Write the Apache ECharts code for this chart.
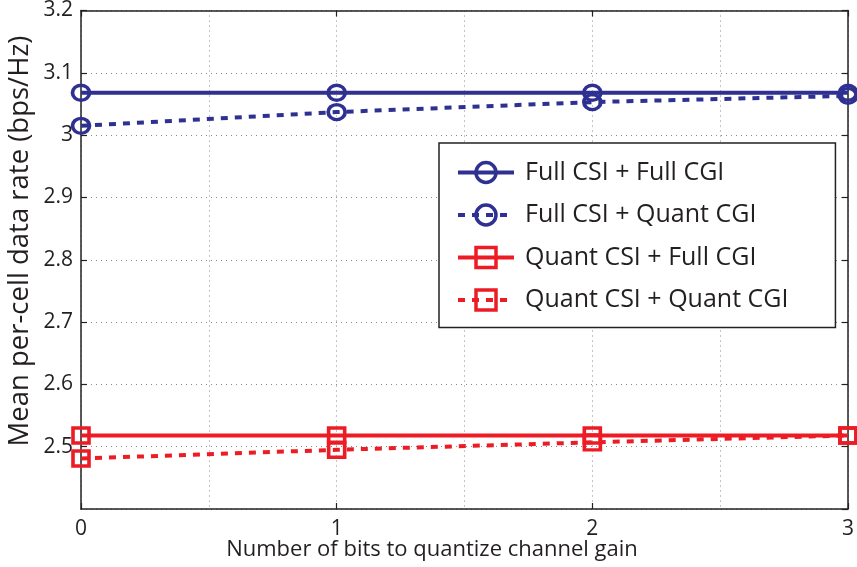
<!DOCTYPE html>
<html>
<head>
<meta charset="utf-8">
<script src="https://cdn.jsdelivr.net/npm/echarts@6/dist/echarts.min.js"></script>
<style>
  html, body { margin: 0; padding: 0; background: #fff; }
  #chart { width: 857px; height: 567px; }
</style>
</head>
<body>
<div id="chart"></div>
<script>
// Number of quantization bits for the channel gain
const bits = [0, 1, 2, 3];

// Mean per-cell data rate (bps/Hz) for each scheme
const fullCsiFullCgi   = [3.068, 3.068, 3.068, 3.068];
const fullCsiQuantCgi  = [3.015, 3.037, 3.053, 3.063];
const quantCsiFullCgi  = [2.518, 2.518, 2.518, 2.518];
const quantCsiQuantCgi = [2.481, 2.495, 2.507, 2.518];

const seriesNames = [
  'Full CSI + Full CGI',
  'Full CSI + Quant CGI',
  'Quant CSI + Full CGI',
  'Quant CSI + Quant CGI'
];

const xTitle = 'Number of bits to quantize channel gain';
const yTitle = 'Mean per-cell data rate (bps/Hz)';

const BLUE = '#2e3192';
const RED = '#ed1c24';
const INK = '#231f20';
const FONT = 'Open Sans';

function pairs(ys) { return bits.map((x, i) => [x, ys[i]]); }

function makeSeries(name, ys, color, symbol, dashed) {
  return {
    name: name,
    type: 'line',
    xAxisIndex: 0,
    yAxisIndex: 0,
    data: pairs(ys),
    symbol: symbol,
    symbolSize: symbol === 'circle' ? [17, 15] : [16, 15],
    showAllSymbol: true,
    lineStyle: { color: color, width: 4, type: dashed ? [7, 7] : 'solid' },
    itemStyle: { color: 'rgba(255,255,255,0)', borderColor: color, borderWidth: 3.5 },
    emphasis: { disabled: true },
    animation: false,
    z: 5
  };
}

const chart = echarts.init(document.getElementById('chart'), null, { renderer: 'canvas' });

const gridLine = { show: true, lineStyle: { color: '#8a8a8a', type: [1, 4], width: 1 } };
const axisLine = { show: true, onZero: false, lineStyle: { color: '#222', width: 1.5 } };
const tick = { show: true, inside: true, length: 6, lineStyle: { color: '#222', width: 1.2 } };
const label = { fontFamily: FONT, fontSize: 21, color: INK };

chart.setOption({
  animation: false,
  backgroundColor: '#fff',
  grid: { left: 81, right: 7, top: 5, bottom: 58, containLabel: false },
  xAxis: [
    {
      type: 'value', min: 0, max: 3, interval: 1, position: 'bottom',
      axisLine: axisLine, axisTick: tick,
      axisLabel: Object.assign({ margin: 10 }, label),
      splitLine: { show: false }
    },
    {
      type: 'value', min: 0, max: 3, interval: 0.5, position: 'bottom',
      axisLine: { show: false }, axisTick: { show: false }, axisLabel: { show: false },
      splitLine: gridLine
    },
    {
      type: 'value', min: 0, max: 3, interval: 1, position: 'top',
      axisLine: axisLine, axisTick: tick,
      axisLabel: { show: false }, splitLine: { show: false }
    }
  ],
  yAxis: [
    {
      type: 'value', min: 2.4, max: 3.2, interval: 0.1, position: 'left',
      axisLine: axisLine, axisTick: tick,
      axisLabel: Object.assign({
        margin: 8, showMinLabel: false,
        formatter: v => {
          const r = Math.round(v * 10) / 10;
          return Number.isInteger(r) ? String(r) : r.toFixed(1);
        }
      }, label),
      splitLine: gridLine
    },
    {
      type: 'value', min: 2.4, max: 3.2, interval: 0.1, position: 'right',
      axisLine: axisLine, axisTick: tick,
      axisLabel: { show: false }, splitLine: { show: false }
    }
  ],
  graphic: [
    {
      type: 'text', x: 432, y: 550,
      style: { text: xTitle, font: '22px "Open Sans"', fill: INK, textAlign: 'center', textVerticalAlign: 'middle' }
    },
    {
      type: 'text', x: 20, y: 241, rotation: Math.PI / 2,
      style: { text: yTitle, font: '27.5px "Open Sans"', fill: INK, textAlign: 'center', textVerticalAlign: 'middle' }
    }
  ],
  legend: {
    orient: 'vertical',
    left: 439, top: 143,
    padding: [17, 47, 15, 17],
    itemGap: 17.5,
    itemWidth: 56, itemHeight: 25,
    backgroundColor: '#fff',
    borderColor: '#222', borderWidth: 1.5, borderRadius: 0,
    lineStyle: { width: 4 },
    itemStyle: { borderWidth: 3.5 },
    textStyle: { fontFamily: FONT, fontSize: 25, color: INK, padding: [0, 0, 0, 6] },
    data: seriesNames
  },
  series: [
    makeSeries(seriesNames[0], fullCsiFullCgi, BLUE, 'circle', false),
    makeSeries(seriesNames[1], fullCsiQuantCgi, BLUE, 'circle', true),
    makeSeries(seriesNames[2], quantCsiFullCgi, RED, 'rect', false),
    makeSeries(seriesNames[3], quantCsiQuantCgi, RED, 'rect', true)
  ]
});
</script>
</body>
</html>
